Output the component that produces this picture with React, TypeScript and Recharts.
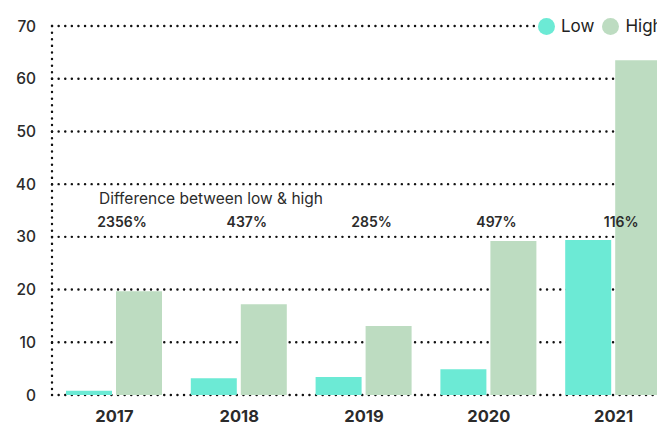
import React from "react";
import {
  ComposedChart,
  Bar,
  XAxis,
  YAxis,
  CartesianGrid,
  Legend,
  LabelList,
} from "recharts";

const years = ["2017", "2018", "2019", "2020", "2021"];
const lowValues = [0.8, 3.2, 3.4, 4.9, 29.4];
const highValues = [19.7, 17.2, 13.1, 29.2, 63.5];
const differences = ["2356%", "437%", "285%", "497%", "116%"];
const yTicks = [0, 10, 20, 30, 40, 50, 60, 70];

const LOW_COLOR = "#6CEAD5";
const HIGH_COLOR = "#BDDCC1";
const FONT = "Inter, 'Noto Sans', sans-serif";

const data = years.map((year, i) => ({
  year,
  Low: lowValues[i],
  High: highValues[i],
  diff: differences[i],
}));

const dotted = {
  stroke: "#111",
  strokeWidth: 2.4,
  strokeDasharray: "0.1 6.5",
  strokeLinecap: "round" as const,
};

const DiffLabel = (props: any) => {
  const { x, value } = props;
  // High bar starts just right of the category centre
  const cx = Number(x) + 6;
  return (
    <text
      x={cx}
      y={219}
      textAnchor="middle"
      fontSize={14}
      fontWeight={600}
      fill="#2b2b2b"
      fontFamily={FONT}
    >
      {value}
    </text>
  );
};

const LegendContent = () => (
  <div style={{ display: "flex", alignItems: "center", background: "#fff", fontFamily: FONT }}>
    {[
      { name: "Low", color: LOW_COLOR },
      { name: "High", color: HIGH_COLOR },
    ].map((item) => (
      <div key={item.name} style={{ display: "flex", alignItems: "center", marginRight: 8 }}>
        <span
          style={{
            width: 17,
            height: 17,
            borderRadius: "50%",
            background: item.color,
            display: "inline-block",
            marginRight: 6,
          }}
        />
        <span style={{ fontSize: 17, color: "#222" }}>{item.name}</span>
      </div>
    ))}
  </div>
);

const App: React.FC = () => {
  return (
    <div style={{ width: 657, overflow: "hidden", position: "relative", fontFamily: FONT }}>
      <ComposedChart
        width={692}
        height={415}
        data={data}
        margin={{ top: 18, right: 24, bottom: 0, left: 0 }}
        barCategoryGap={14}
        barGap={4}
        style={{ fontFamily: FONT }}
      >
        <CartesianGrid vertical={false} {...dotted} />
        <XAxis
          dataKey="year"
          axisLine={false}
          tickLine={false}
          height={28}
          tickMargin={9}
          tick={{ fontSize: 16.5, fontWeight: 700, fill: "#2b2b2b", fontFamily: FONT }}
        />
        <YAxis
          width={44}
          domain={[0, 70]}
          ticks={yTicks}
          axisLine={dotted}
          tickLine={false}
          tickMargin={10}
          tick={{ fontSize: 15.5, fontWeight: 500, fill: "#2b2b2b", fontFamily: FONT }}
        />
        <Legend
          layout="horizontal"
          align="center"
          verticalAlign="middle"
          content={LegendContent}
          wrapperStyle={{ top: 8, left: 530, width: "auto" }}
        />
        <Bar dataKey="Low" fill={LOW_COLOR} isAnimationActive={false} />
        <Bar dataKey="High" fill={HIGH_COLOR} isAnimationActive={false}>
          <LabelList dataKey="diff" content={DiffLabel} />
        </Bar>
      </ComposedChart>
      <div
        style={{
          position: "absolute",
          left: 91,
          top: 181,
          fontSize: 15.5,
          color: "#2b2b2b",
          fontFamily: FONT,
        }}
      >
        Difference between low &amp; high
      </div>
    </div>
  );
};

export default App;
